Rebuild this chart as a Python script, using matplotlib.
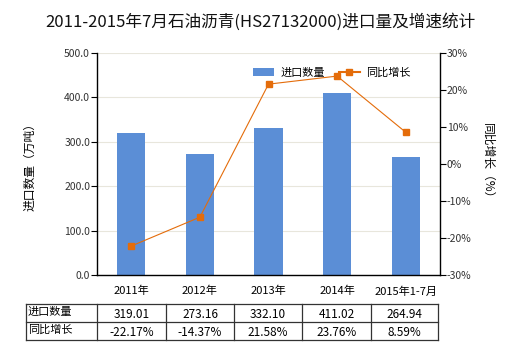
import matplotlib
matplotlib.use("Agg")
import matplotlib.pyplot as plt
from matplotlib.lines import Line2D
from matplotlib.patches import Patch

plt.rcParams['font.family'] = ['Noto Sans CJK SC', 'DejaVu Sans']

categories = ["2011年", "2012年", "2013年", "2014年", "2015年1-7月"]
volumes = [319.01, 273.16, 332.10, 411.02, 264.94]
growth = [-22.17, -14.37, 21.58, 23.76, 8.59]
volume_labels = ["319.01", "273.16", "332.10", "411.02", "264.94"]
growth_labels = ["-22.17%", "-14.37%", "21.58%", "23.76%", "8.59%"]
title = "2011-2015年7月石油沥青(HS27132000)进口量及增速统计"

W, H = 520, 350
fig = plt.figure(figsize=(W / 100, H / 100), dpi=100)
x0, x1, y0, y1 = 97, 440, 53, 275
ax = fig.add_axes([x0 / W, 1 - y1 / H, (x1 - x0) / W, (y1 - y0) / H])

bar_color = "#5B8ED6"
line_color = "#E46C0A"
xs = list(range(len(categories)))
ax.bar(xs, volumes, width=0.41, color=bar_color, zorder=2)
ax.set_xlim(-0.5, len(categories) - 0.5)
ax.set_ylim(0, 500)
ax.set_yticks([0, 100, 200, 300, 400, 500])
ax.set_yticklabels([f"{v:.1f}" for v in [0, 100, 200, 300, 400, 500]], fontsize=7.5, color="#333333")
ax.set_xticks(xs)
ax.set_xticklabels(categories, fontsize=8)
ax.tick_params(axis='x', length=0, pad=8)
ax.tick_params(axis='y', length=4, width=0.8, pad=1)
ax.grid(axis='y', color="#E8E6DC", linewidth=0.8, zorder=0)
for s in ['top', 'right']:
    ax.spines[s].set_visible(False)
ax.spines['left'].set_linewidth(1)
ax.spines['bottom'].set_linewidth(1)
ax.set_ylabel("进口数量（万吨）", fontsize=8.5, labelpad=20)

ax2 = ax.twinx()
ax2.plot(xs, growth, color=line_color, linewidth=0.8, marker='s', markersize=4, zorder=3)
ax2.set_ylim(-30, 30)
ax2.set_yticks([-30, -20, -10, 0, 10, 20, 30])
ax2.set_yticklabels([f"{v}%" for v in [-30, -20, -10, 0, 10, 20, 30]], fontsize=7.5, color="#333333")
ax2.tick_params(axis='y', length=4, width=0.8, pad=1)
for s in ['top', 'left', 'bottom']:
    ax2.spines[s].set_visible(False)
ax2.spines['right'].set_linewidth(1)
ax2.set_ylabel("同比增长（%）", fontsize=8.5, rotation=-90, labelpad=16)

handles = [Patch(facecolor=bar_color, label="进口数量"),
           Line2D([0], [0], color=line_color, marker='s', markersize=4, linewidth=1.5, label="同比增长")]
fig.legend(handles=handles, loc='center left', bbox_to_anchor=(253 / W, 1 - 73 / H), ncol=2, frameon=False,
           fontsize=8, handlelength=1.9, columnspacing=1.2, handletextpad=0.6,
           borderpad=0, borderaxespad=0)

fig.text(0.5, 1 - 22 / H, title, ha='center', va='center', fontsize=12, color="#111111")

# table
cols = [26, 97, 166, 234, 302, 371, 438]
rows = [304, 322, 340]
tax = fig.add_axes([0, 0, 1, 1])
tax.set_xlim(0, W)
tax.set_ylim(H, 0)
tax.axis('off')
for yy in rows:
    tax.plot([cols[0], cols[-1]], [yy, yy], color="#333333", linewidth=0.9)
for xx in cols:
    tax.plot([xx, xx], [rows[0], rows[-1]], color="#333333", linewidth=0.9)
row_names = ["进口数量", "同比增长"]
row_vals = [volume_labels, growth_labels]
for r in range(2):
    yc = (rows[r] + rows[r + 1]) / 2
    tax.text(cols[0] + 2, yc - 1, row_names[r], ha='left', va='center', fontsize=8)
    for c in range(len(categories)):
        xc = (cols[c + 1] + cols[c + 2]) / 2
        tax.text(xc, yc + 1, row_vals[r][c], ha='center', va='center', fontsize=8.5)

fig.savefig("out.png", dpi=100)
